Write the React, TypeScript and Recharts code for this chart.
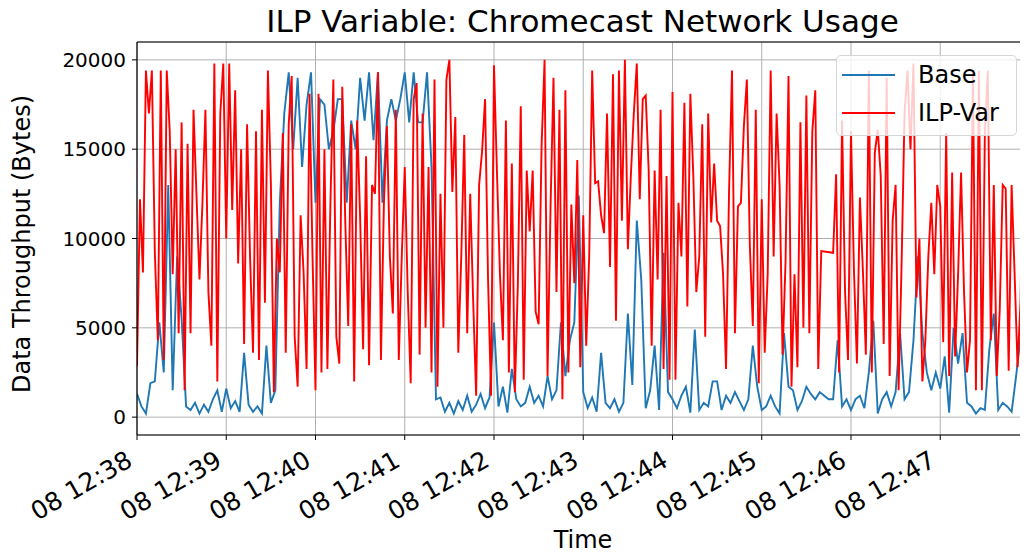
import { LineChart, Line, XAxis, YAxis, CartesianGrid, ReferenceLine } from "recharts";

// seconds after 08 12:38:00; ILP-Var sampled every 2 s, Base every 3 s
const ILP_STEP = 2;
const BASE_STEP = 3;

const ilpVar: (number | null)[] = [
  2850, 12200, 8100, 19400, 17000, 19400, 9200, 4300, 19400, 3200,
  19400, 16000, 8000, 15000, 4700, 16500, 1500, 15300, 4700, 17200,
  12400, 7700, 12000, 17200, 7000, 4000, 19800, 2000, 17000, 19800,
  10000, 19800, 11600, 18300, 8600, 15000, 4100, 16400, 9000, 3600,
  16000, 3200, 17200, 6400, 19400, 13100, 1400, 10000, 8100, 15900,
  3600, 16400, 19100, 4500, 1700, 11300, 8100, 2700, 18100, 9000,
  1500, 18100, 2500, 15000, 2700, 11800, 18900, 4500, 3000, 18500,
  11000, 5100, 16400, 2000, 16600, 11200, 3800, 14600, 2900, 13000,
  12500, 19300, 3200, 12000, 16300, 9000, 5800, 17200, 3200, 9000,
  14000, 7000, 1900, 17800, 18700, 3500, 17000, 5000, 14000, 2500,
  18900, 1700, 12500, 5000, 18900, 20000, 12600, 16800, 3600, 9000,
  15800, 4700, 12500, 6500, 1200, 13000, 14900, 17800, 7700, 1200,
  19700, 13700, 8000, 4300, 16600, 2500, 14200, 1400, 7300, 17400,
  2100, 13800, 10400, 13800, 5900, 5200, 15200, 20000, 2300, 11700,
  19000, 7000, 17200, 1000, 18300, 2500, 11900, 7500, 14400, 2800,
  11300, 4000, 9000, 19400, 13100, 13200, 11300, 10300, 17000, 8400,
  19200, 5400, 19400, 11000, 20000, 9400, 13500, 17000, 19800, 12200,
  17800, 18000, 13800, 4000, 13800, 7700, 17200, 2700, 13500, 2100,
  18200, 2100, 12000, 9000, 17600, 6200, 18100, 13500, 7000, 9000,
  16400, 4500, 17000, 10900, 14200, 11000, 10700, 8000, 2700, 12500,
  19400, 4700, 11800, 12000, 16300, 18900, 9600, 5100, 17200, 1900,
  12200, 3600, 8000, 19400, 9000, 17000, 13000, 3500, 8700, 19100,
  1700, 8000, 2800, 16500, 5000, 18000, 4700, 16000, 18300, 2700,
  9300, null, null, null, 9200, 13600, 2500, 16600, 7000, 3200,
  16000, 8200, 3000, 12300, 8200, 3500, 19400, 2500, 14800, 16100,
  13500, 4100, 19000, 2300, 11000, 13000, 1500, 8500, 17000, 19400,
  15000, 19800, 6700, 10000, 2000, 4300, 9000, 12000, 8000, 13000,
  11800, 4200, 15900, 2300, 13700, 3400, 8000, 13700, 7000, 2500,
  4300, 19400, 1500, 19400, 1500, 15900, 19400, 4300, 13000, 2300,
  6000, 13000, 12800, 2600, 13000, 8000, 2800, 6500, 18500, 4000,
];

const base: number[] = [
  1300, 600, 200, 1900, 2000, 5300, 2500, 13000, 1500, 9000,
  5500, 600, 400, 800, 200, 700, 300, 1000, 1500, 300,
  1600, 500, 900, 300, 3600, 700, 300, 600, 200, 4000,
  800, 1500, 12000, 17000, 19300, 15000, 19000, 14000, 17500, 19300,
  12000, 17800, 17500, 15000, 16000, 17800, 17800, 12000, 16600, 15000,
  19000, 16600, 19300, 15500, 19300, 12000, 16600, 17800, 16600, 17800,
  19300, 16500, 19300, 16500, 16500, 19300, 14000, 1000, 1100, 300,
  800, 200, 900, 400, 1200, 300, 700, 1300, 500, 1100,
  5300, 600, 1700, 250, 2700, 1000, 600, 800, 1700, 800,
  1200, 600, 2300, 1000, 1500, 5300, 2300, 4300, 5300, 12400,
  1400, 500, 1100, 300, 3600, 800, 500, 1000, 300, 800,
  5800, 1800, 11000, 7700, 500, 1500, 4000, 400, 9200, 1400,
  1000, 500, 1200, 1700, 250, 4900, 400, 800, 600, 2000,
  2000, 400, 1200, 800, 1400, 900, 400, 1000, 4000, 1700,
  400, 600, 1200, 600, 200, 4700, 1700, 1500, 400, 900,
  1700, 1300, 1000, 1400, 1200, 1000, 1000, 4300, 600, 1000,
  400, 1000, 1200, 500, 2500, 5400, 200, 1000, 1400, 600,
  1400, 4700, 1000, 1400, 4300, 9000, 4700, 2500, 1500, 2500,
  1600, 3400, 250, 5000, 3000, 4700, 800, 600, 200, 500,
  400, 3800, 5800, 400, 800, 600, 300, 2300, 4500, 6000,
];

const xTicks = [0, 60, 120, 180, 240, 300, 360, 420, 480, 540];
const xTickLabels = [
  "08 12:38", "08 12:39", "08 12:40", "08 12:41", "08 12:42",
  "08 12:43", "08 12:44", "08 12:45", "08 12:46", "08 12:47",
];
const yTicks = [0, 5000, 10000, 15000, 20000];

const legendItems = [
  { name: "Base", color: "#1f77b4" },
  { name: "ILP-Var", color: "#ff0000" },
];

type Row = { t: number; base?: number; ilp?: number | null };

const rows: Row[] = (() => {
  const m = new Map<number, Row>();
  base.forEach((v, i) => {
    const t = i * BASE_STEP;
    m.set(t, { ...(m.get(t) || { t }), base: v });
  });
  ilpVar.forEach((v, i) => {
    const t = i * ILP_STEP;
    m.set(t, { ...(m.get(t) || { t }), ilp: v });
  });
  return [...m.values()].sort((a, b) => a.t - b.t);
})();

const FONT = "DejaVu Sans";

function TimeTick({ x, y, payload }: any) {
  const label = xTickLabels[xTicks.indexOf(payload.value)];
  const px = x - 3;
  const py = y + 23;
  return (
    <text
      x={px}
      y={py}
      textAnchor="end"
      transform={`rotate(-30 ${px} ${py})`}
      fontSize={25}
      fontFamily={FONT}
      fill="#000"
    >
      {label}
    </text>
  );
}

function ValueTick({ x, y, payload }: any) {
  return (
    <text x={x} y={y} dy="0.36em" textAnchor="end" fontSize={20} fontFamily={FONT} fill="#000">
      {payload.value}
    </text>
  );
}

export default function App() {
  return (
    <div style={{ position: "relative", width: 1020, height: 550, fontFamily: FONT, color: "#000" }}>
      <div
        style={{
          position: "absolute",
          left: 129,
          width: 891,
          top: -2,
          textAlign: "center",
          fontSize: 31,
          lineHeight: "30px",
          whiteSpace: "nowrap",
        }}
      >
        ILP Variable: Chromecast Network Usage
      </div>
      <div
        style={{
          position: "absolute",
          left: 14,
          top: 236,
          transform: "translate(-50%, -50%) rotate(-90deg)",
          whiteSpace: "nowrap",
          fontSize: 24,
        }}
      >
        Data Throughput (Bytes)
      </div>
      <div
        style={{
          position: "absolute",
          left: 575,
          top: 532,
          transform: "translate(-50%, -50%)",
          fontSize: 24,
        }}
      >
        Time
      </div>

      <LineChart
        width={1020}
        height={550}
        data={rows}
        margin={{ top: 34, right: 0, left: 0, bottom: 43 }}
      >
        <CartesianGrid stroke="#b0b0b0" strokeWidth={1} />
        <XAxis
          dataKey="t"
          type="number"
          domain={[0, 599]}
          ticks={xTicks}
          tick={<TimeTick />}
          tickSize={5}
          height={80}
          interval={0}
          axisLine={{ stroke: "#000", strokeWidth: 1.2 }}
          tickLine={{ stroke: "#000" }}
          allowDataOverflow
        />
        <YAxis
          type="number"
          domain={[-1000, 21000]}
          ticks={yTicks}
          width={129}
          tickSize={5}
          tickMargin={6}
          interval={0}
          axisLine={{ stroke: "#000", strokeWidth: 1.2 }}
          tickLine={{ stroke: "#000" }}
          tick={<ValueTick />}
          allowDataOverflow
        />
        <ReferenceLine y={21000} stroke="#000" strokeWidth={1.2} />
        <Line
          dataKey="base"
          stroke="#1f77b4"
          strokeWidth={1.9}
          dot={false}
          connectNulls
          isAnimationActive={false}
        />
        <Line
          dataKey="ilp"
          stroke="#ff0000"
          strokeWidth={1.9}
          dot={false}
          connectNulls
          isAnimationActive={false}
        />
      </LineChart>

      <div
        style={{
          position: "absolute",
          left: 828,
          top: 47,
          width: 181,
          height: 81,
          boxSizing: "border-box",
          background: "rgba(255,255,255,0.8)",
          border: "1px solid #d6d6d6",
          borderRadius: 5,
          fontSize: 24,
        }}
      >
        {legendItems.map((item, i) => (
          <div
            key={item.name}
            style={{ position: "absolute", left: 5, top: 5 + i * 38, display: "flex", alignItems: "center" }}
          >
            <div style={{ width: 53, height: 2, background: item.color }} />
            <span style={{ marginLeft: 23, lineHeight: "28px" }}>{item.name}</span>
          </div>
        ))}
      </div>
    </div>
  );
}
